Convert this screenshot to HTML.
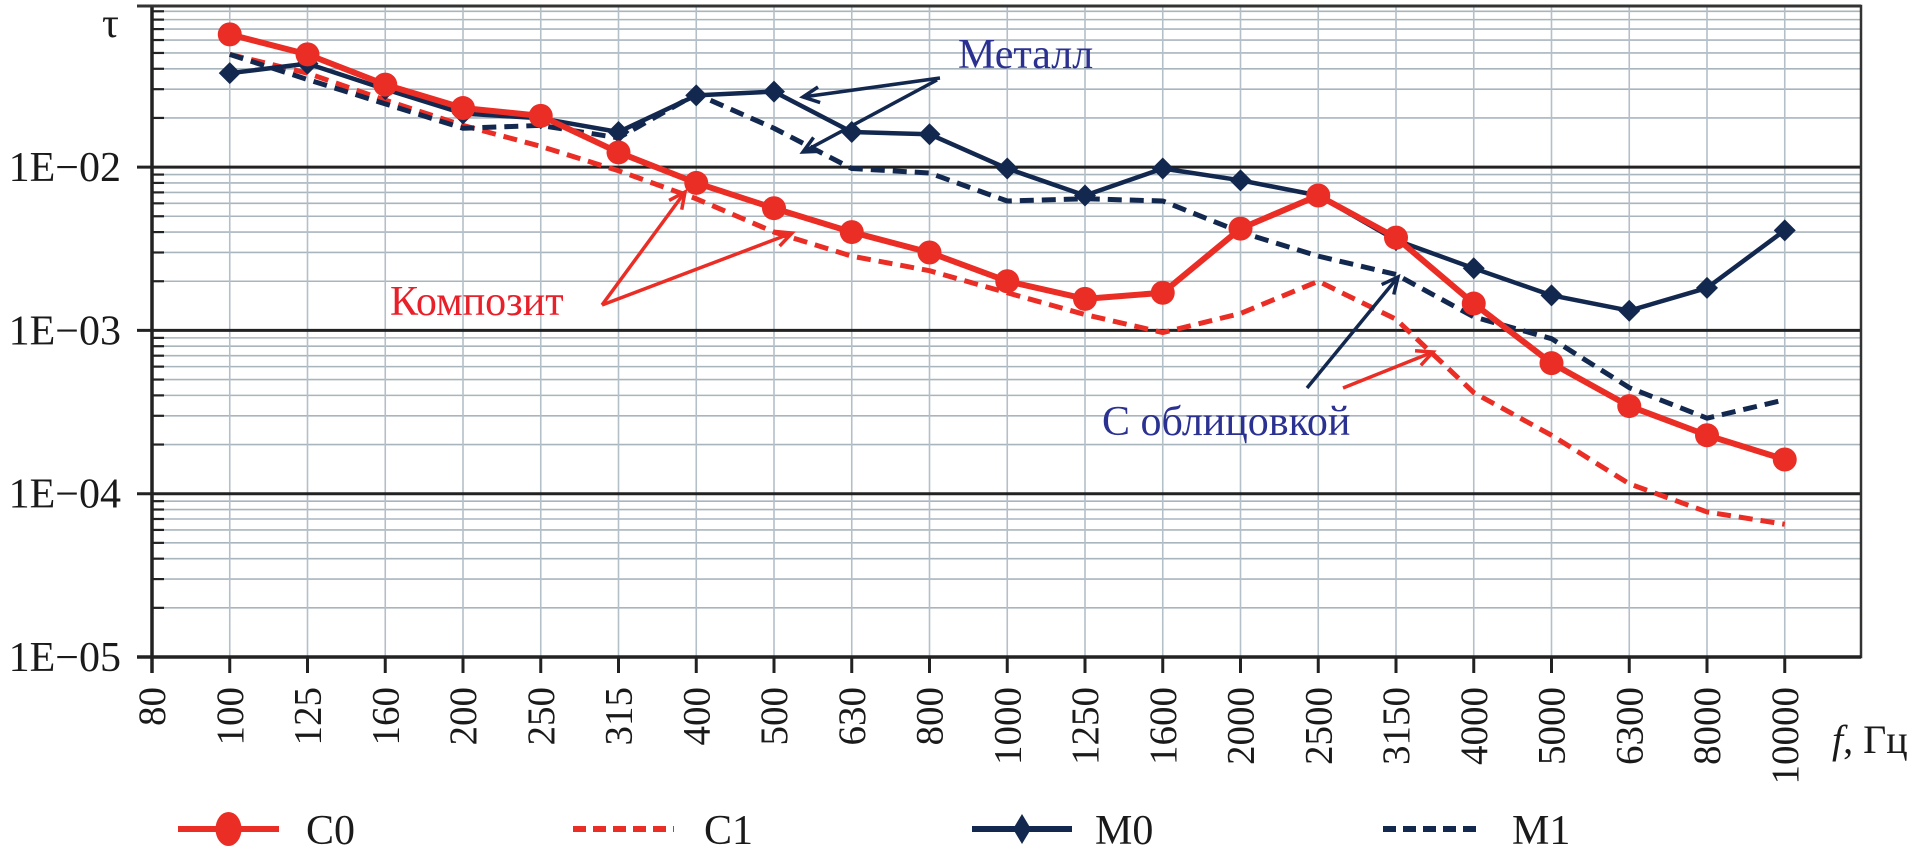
<!DOCTYPE html>
<html><head><meta charset="utf-8"><style>
html,body{margin:0;padding:0;background:#fff;}
svg{display:block;}
text{font-family:"Liberation Serif",serif;}
</style></head><body>
<svg id="chart" width="1916" height="863" viewBox="0 0 1916 863" xmlns="http://www.w3.org/2000/svg">
</svg>
<script>
const categories=["80","100","125","160","200","250","315","400","500","630","800","1000","1250","1600","2000","2500","3150","4000","5000","6300","8000","10000"];
const c0Values=[null,0.065,0.049,0.032,0.023,0.0206,0.0123,0.008,0.0056,0.004,0.003,0.002,0.00156,0.0017,0.0042,0.0067,0.0037,0.00146,0.00063,0.000344,0.000228,0.000162];
const c1Values=[null,0.049,0.0376,0.0257,0.018,0.0134,0.0095,0.0064,0.004,0.00285,0.00232,0.0017,0.00125,0.00097,0.00127,0.002,0.00117,0.000416,0.000228,0.000115,0.0000773,0.000065];
const m0Values=[null,0.0376,0.043,0.030,0.0213,0.0199,0.0164,0.0275,0.029,0.0164,0.0159,0.0098,0.0067,0.0098,0.0083,0.0067,0.00357,0.0024,0.00164,0.00132,0.00182,0.0041];
const m1Values=[null,0.049,0.0344,0.0244,0.0173,0.018,0.0151,0.028,0.0173,0.0098,0.0092,0.0062,0.0064,0.0062,0.004,0.00285,0.0022,0.00121,0.00089,0.000446,0.00029,0.000376];
const yTickLabels=["1E−05","1E−04","1E−03","1E−02"];
const yTickValues=[1e-5,1e-4,1e-3,1e-2];

const NS="http://www.w3.org/2000/svg";
const svgRoot=document.getElementById('chart');
const PL=152,PR=1861,PT=6,PB=657,X0=152,DX=77.75,DEC=163.3;
function xs(i){return X0+i*DX;}
function ys(v){return PB-(Math.log10(v)+5)*DEC;}
function el(tag,attrs,parent){const e=document.createElementNS(NS,tag);for(const k in attrs)e.setAttribute(k,attrs[k]);(parent||svgRoot).appendChild(e);return e;}

const grid=el('g',{});


for(let d=-5;d<=-2;d++){
  for(let m=2;m<=9;m++){
    const y=ys(m*Math.pow(10,d));
    if(y<PT)continue;
    const ln=el('line',{x1:PL,x2:PR,y1:y,y2:y,stroke:'#a9b5bd','stroke-width':1.6},grid);
    
    
    const tk=el('line',{x1:PL,x2:PL+12,y1:y,y2:y,stroke:'#222','stroke-width':2.2},grid);
    
    
  }
}
categories.forEach((c,i)=>{
  const x=xs(i);
  const ln=el('line',{x1:x,x2:x,y1:PT,y2:PB,stroke:'#b4c0c8','stroke-width':1.6},grid);
  
  
  const tk=el('line',{x1:x,x2:x,y1:PB,y2:PB+16,stroke:'#222','stroke-width':3},grid);
  
  
  const t=el('text',{x:0,y:0,transform:`translate(${x+13},687) rotate(-90)`,'text-anchor':'end','font-size':39,fill:'#1a1a1a'});
  t.textContent=c;
  
  
});
yTickValues.forEach((v,i)=>{
  const y=ys(v);
  const ln=el('line',{x1:137,x2:PR,y1:y,y2:y,stroke:'#222','stroke-width':3});
  
  
  const t=el('text',{x:121,y:y+14,'text-anchor':'end','font-size':42,fill:'#1a1a1a'});
  t.textContent=yTickLabels[i];
  
  
});
const plotFrame=el('rect',{x:PL,y:PT,width:PR-PL,height:PB-PT,fill:'none',stroke:'#333','stroke-width':2.5});


const leftAxis=el('line',{x1:PL,x2:PL,y1:PT,y2:PB+16,stroke:'#222','stroke-width':3.5});


const bottomAxis=el('line',{x1:137,x2:PR,y1:PB,y2:PB,stroke:'#222','stroke-width':3.5});


const topBorder=el('line',{x1:137,x2:PR,y1:PT,y2:PT,stroke:'#333','stroke-width':3});



const RED='#ea2d25',NAVY='#13284f';
function series(vals,color,dash,width,marker,nm){
  const g=el('g',{});
  
  
  const pts=[];vals.forEach((v,i)=>{if(v!=null)pts.push([xs(i),ys(v)]);});
  const p=el('polyline',{points:pts.map(q=>q.join(',')).join(' '),fill:'none',stroke:color,'stroke-width':width,'stroke-dasharray':dash||'none','stroke-linejoin':'round'},g);
  
  
  pts.forEach(([x,y])=>{
    let m=null;
    if(marker==='circle')m=el('circle',{cx:x,cy:y,r:12,fill:color},g);
    if(marker==='diamond')m=el('path',{d:`M${x},${y-11} L${x+11},${y} L${x},${y+11} L${x-11},${y} Z`,fill:color},g);
    if(m){
    }
  });
}
series(c1Values,RED,'14 8',5,null,'series-c1');
series(m1Values,NAVY,'14 8',5,null,'series-m1');
series(m0Values,NAVY,null,4.5,'diamond','series-m0');
series(c0Values,RED,null,6,'circle','series-c0');

function txt(s,x,y,size,fill,nm){const t=el('text',{x:x,y:y,'font-size':size,fill:fill});t.textContent=s;return t;}
function arrow(x1,y1,x2,y2,color,nm){
  const g=el('g',{});
  
  
  el('line',{x1:x1,y1:y1,x2:x2,y2:y2,stroke:color,'stroke-width':3.5},g);
  const a=Math.atan2(y2-y1,x2-x1),h=18,s=0.45;
  const d=`M${x2-h*Math.cos(a-s)},${y2-h*Math.sin(a-s)} L${x2},${y2} L${x2-h*Math.cos(a+s)},${y2-h*Math.sin(a+s)}`;
  el('path',{d:d,fill:'none',stroke:color,'stroke-width':3.5},g);
}
txt('τ',102,37,42,'#1a1a1a','y-axis-title');
txt('Металл',958,68,42,'#2b3190','label-metal');
arrow(940,78,803,97,NAVY,'arrow-metal-1');
arrow(937,80,803,152,NAVY,'arrow-metal-2');
txt('Композит',390,315,42,'#e8202a','label-composite');
arrow(602,305,685,192,RED,'arrow-composite-1');
arrow(602,305,792,233,RED,'arrow-composite-2');
txt('С облицовкой',1102,435,42,'#2b3190','label-lined');
arrow(1307,388,1398,277,NAVY,'arrow-lined-navy');
arrow(1343,388,1433,352,RED,'arrow-lined-red');
const xTitle=el('text',{x:1832,y:753,'font-size':40,fill:'#1a1a1a'});
const fSpan=el('tspan',{'font-style':'italic'},xTitle);fSpan.textContent='f';
const restSpan=el('tspan',{},xTitle);restSpan.textContent=', Гц';



const LY=829;
function legend(x1,x2,color,dash,marker,label,tx,nm){
  const g=el('g',{});
  
  
  el('line',{x1:x1,x2:x2,y1:LY,y2:LY,stroke:color,'stroke-width':6,'stroke-dasharray':dash||'none'},g);
  const cx=(x1+x2)/2;
  if(marker==='circle')el('ellipse',{cx:cx,cy:LY,rx:13,ry:17,fill:color},g);
  if(marker==='diamond')el('path',{d:`M${cx},${LY-15} L${cx+9},${LY} L${cx},${LY+15} L${cx-9},${LY} Z`,fill:color},g);
  const t=el('text',{x:tx,y:LY+15,'font-size':42,fill:'#1a1a1a'},g);t.textContent=label;
}
legend(178,279,RED,null,'circle','C0',306,'legend-c0');
legend(573,674,RED,'13 7',null,'C1',704,'legend-c1');
legend(972,1072,NAVY,null,'diamond','M0',1095,'legend-m0');
legend(1383,1483,NAVY,'13 7',null,'M1',1512,'legend-m1');
</script>
</body></html>
